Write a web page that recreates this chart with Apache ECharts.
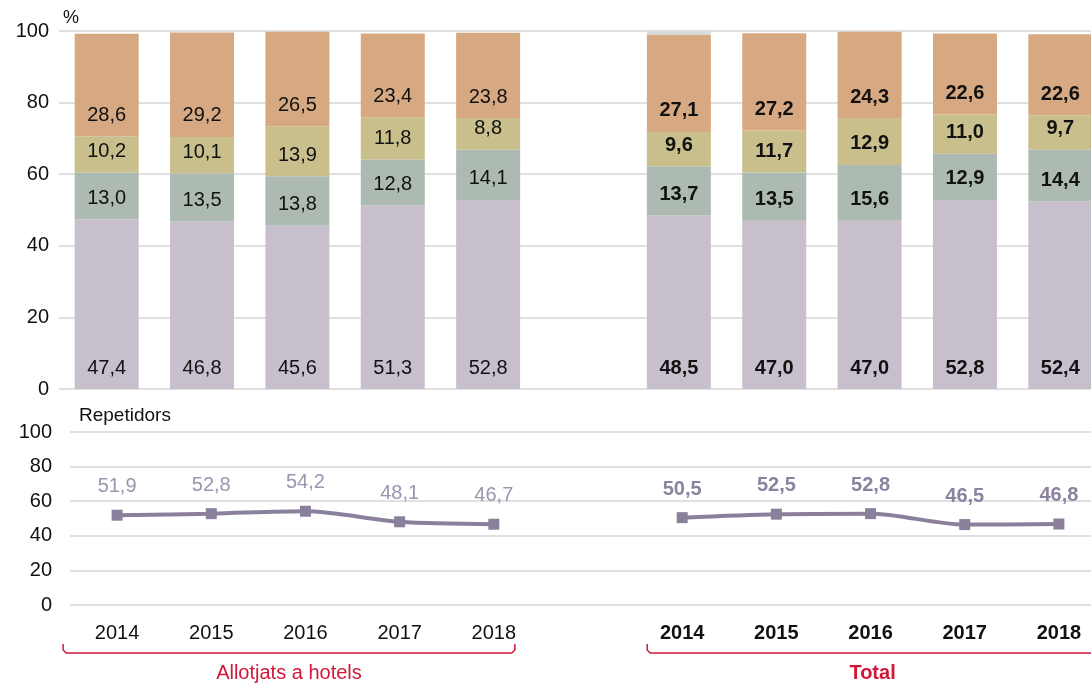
<!DOCTYPE html>
<html>
<head>
<meta charset="utf-8">
<script src="https://cdn.jsdelivr.net/npm/echarts@6/dist/echarts.min.js"></script>
<style>
html, body { margin: 0; padding: 0; background: #fff; overflow: hidden; }
#main { width: 1091px; height: 683px; }
</style>
</head>
<body>
<div id="main"></div>
<script>
// categories: hotels 2014-2018, empty gap, total 2014-2018
var years = [ '2014', '2015', '2016', '2017', '2018', '', '2014', '2015', '2016', '2017', '2018' ];
var seg1 = [ 47.4, 46.8, 45.6, 51.3, 52.8, '-', 48.5, 47.0, 47.0, 52.8, 52.4 ];
var seg2 = [ 13.0, 13.5, 13.8, 12.8, 14.1, '-', 13.7, 13.5, 15.6, 12.9, 14.4 ];
var seg3 = [ 10.2, 10.1, 13.9, 11.8, 8.8, '-', 9.6, 11.7, 12.9, 11.0, 9.7 ];
var seg4 = [ 28.6, 29.2, 26.5, 23.4, 23.8, '-', 27.1, 27.2, 24.3, 22.6, 22.6 ];
var segRest = [ 0.8, 0.4, 0.2, 0.7, 0.5, '-', 1.1, 0.6, 0.2, 0.7, 0.9 ];
var repetidors = [ 51.9, 52.8, 54.2, 48.1, 46.7, '-', 50.5, 52.5, 52.8, 46.5, 46.8 ];
var yTicks = { min : 0, max : 100, interval : 20 };
var groupLabels = [ 'Allotjats a hotels', 'Total' ];

var FONT = 'Liberation Sans';
var RED = '#d31638';

function fmt(v) {
	return Number(v).toFixed(1).replace('.', ',');
}

function barSeries(name, data, color) {
	return {
		name : name,
		type : 'bar',
		stack : 'a',
		xAxisIndex : 0,
		yAxisIndex : 0,
		barWidth : 64,
		data : data,
		itemStyle : { color : color },
		label : {
			show : true,
			position : 'insideBottom',
			distance : 11,
			formatter : function(p) {
				return (p.dataIndex > 5 ? '{b|' : '{n|') + fmt(p.value) + '}';
			},
			rich : {
				n : { fontFamily : FONT, fontSize : 20, color : '#111' },
				b : { fontFamily : FONT, fontSize : 20, color : '#111', fontWeight : 'bold' }
			}
		}
	};
}

function chart_option() {
	var gridLine = { show : true, lineStyle : { color : '#d6d6d6', width : 1.5 } };
	var option = {
		animation : false,
		grid : [
			// plot runs past the right edge of the picture, as in the source
			{ left : 59, width : 1049, top : 31, height : 358, outerBoundsMode : 'none', containLabel : false },
			{ left : 70, width : 1036, top : 432, height : 173, outerBoundsMode : 'none', containLabel : false }
		],
		xAxis : [ {
			type : 'category',
			gridIndex : 0,
			data : years,
			axisLine : { show : false },
			axisTick : { show : false },
			axisLabel : { show : false }
		}, {
			type : 'category',
			gridIndex : 1,
			data : years,
			axisLine : { show : false },
			axisTick : { show : false },
			axisLabel : {
				margin : 18,
				interval : 0,
				formatter : function(v, i) {
					return (i > 5 ? '{b|' : '{n|') + v + '}';
				},
				rich : {
					n : { fontFamily : FONT, fontSize : 20, color : '#111' },
					b : { fontFamily : FONT, fontSize : 20, color : '#111', fontWeight : 'bold' }
				}
			}
		} ],
		yAxis : [ {
			type : 'value',
			gridIndex : 0,
			min : yTicks.min,
			max : yTicks.max,
			interval : yTicks.interval,
			name : '%',
			nameLocation : 'end',
			nameGap : 4,
			nameTextStyle : { fontFamily : FONT, fontSize : 18, color : '#111', align : 'left', verticalAlign : 'bottom', padding : [ 0, 0, 0, 4 ] },
			axisLine : { show : false },
			axisTick : { show : false },
			axisLabel : { margin : 10, fontFamily : FONT, fontSize : 20, color : '#111' },
			splitLine : gridLine
		}, {
			type : 'value',
			gridIndex : 1,
			min : yTicks.min,
			max : yTicks.max,
			interval : yTicks.interval,
			name : 'Repetidors',
			nameLocation : 'end',
			nameGap : 7,
			nameTextStyle : { fontFamily : FONT, fontSize : 19, color : '#111', align : 'left', verticalAlign : 'bottom', padding : [ 0, 0, 0, 9 ] },
			axisLine : { show : false },
			axisTick : { show : false },
			axisLabel : { margin : 18, fontFamily : FONT, fontSize : 20, color : '#111' },
			splitLine : gridLine
		} ],
		series : [
			barSeries('s1', seg1, '#c8bfcd'),
			barSeries('s2', seg2, '#adbab2'),
			barSeries('s3', seg3, '#c8bf8d'),
			barSeries('s4', seg4, '#d6a982'),
			{
				name : 'rest',
				type : 'bar',
				stack : 'a',
				xAxisIndex : 0,
				yAxisIndex : 0,
				barWidth : 64,
				data : segRest,
				itemStyle : {
					color : function(p) {
						// only the first "Total" bar shows its grey remainder
						return p.dataIndex == 6 ? '#d9d9d9' : 'rgba(255,255,255,0)';
					}
				}
			},
			{
				name : 'Repetidors',
				type : 'line',
				xAxisIndex : 1,
				yAxisIndex : 1,
				data : repetidors,
				smooth : 0.3,
				connectNulls : false,
				symbol : 'rect',
				symbolSize : 11,
				lineStyle : { color : '#8b809c', width : 4 },
				itemStyle : { color : '#8b809c' },
				label : {
					show : true,
					position : 'top',
					distance : 13,
					formatter : function(p) {
						return (p.dataIndex > 5 ? '{b|' : '{n|') + fmt(p.value) + '}';
					},
					rich : {
						n : { fontFamily : FONT, fontSize : 20, color : '#9d94ad' },
						b : { fontFamily : FONT, fontSize : 20, color : '#8c82a0', fontWeight : 'bold' }
					}
				}
			}
		]
	};
	return option;
}

var chart = echarts.init(document.getElementById('main'));
chart.setOption(chart_option());

// group brackets under the year labels
function bracket(x1, x2, y) {
	return {
		type : 'polyline',
		shape : { points : [ [ x1, y - 9 ], [ x1, y - 3 ], [ x1 + 3, y ], [ x2 - 3, y ], [ x2, y - 3 ], [ x2, y - 9 ] ] },
		style : { stroke : RED, lineWidth : 1.5, fill : null }
	};
}
var a0 = chart.convertToPixel({ xAxisIndex : 1 }, 0);
var a4 = chart.convertToPixel({ xAxisIndex : 1 }, 4);
var b0 = chart.convertToPixel({ xAxisIndex : 1 }, 6);
var b4 = chart.convertToPixel({ xAxisIndex : 1 }, 10);
var l1 = a0 - 54, r1 = a4 + 21;
var l2 = b0 - 35, r2 = b4 + 39;
chart.setOption({
	graphic : [
		bracket(l1, r1, 653),
		bracket(l2, r2, 653),
		{
			type : 'text',
			x : (l1 + r1) / 2,
			y : 673,
			style : { text : groupLabels[0], fill : RED, font : '20px "Liberation Sans"', textAlign : 'center', textVerticalAlign : 'middle' }
		},
		{
			type : 'text',
			x : (l2 + r2) / 2,
			y : 673,
			style : { text : groupLabels[1], fill : RED, font : 'bold 20px "Liberation Sans"', textAlign : 'center', textVerticalAlign : 'middle' }
		}
	]
});
</script>
</body>
</html>
